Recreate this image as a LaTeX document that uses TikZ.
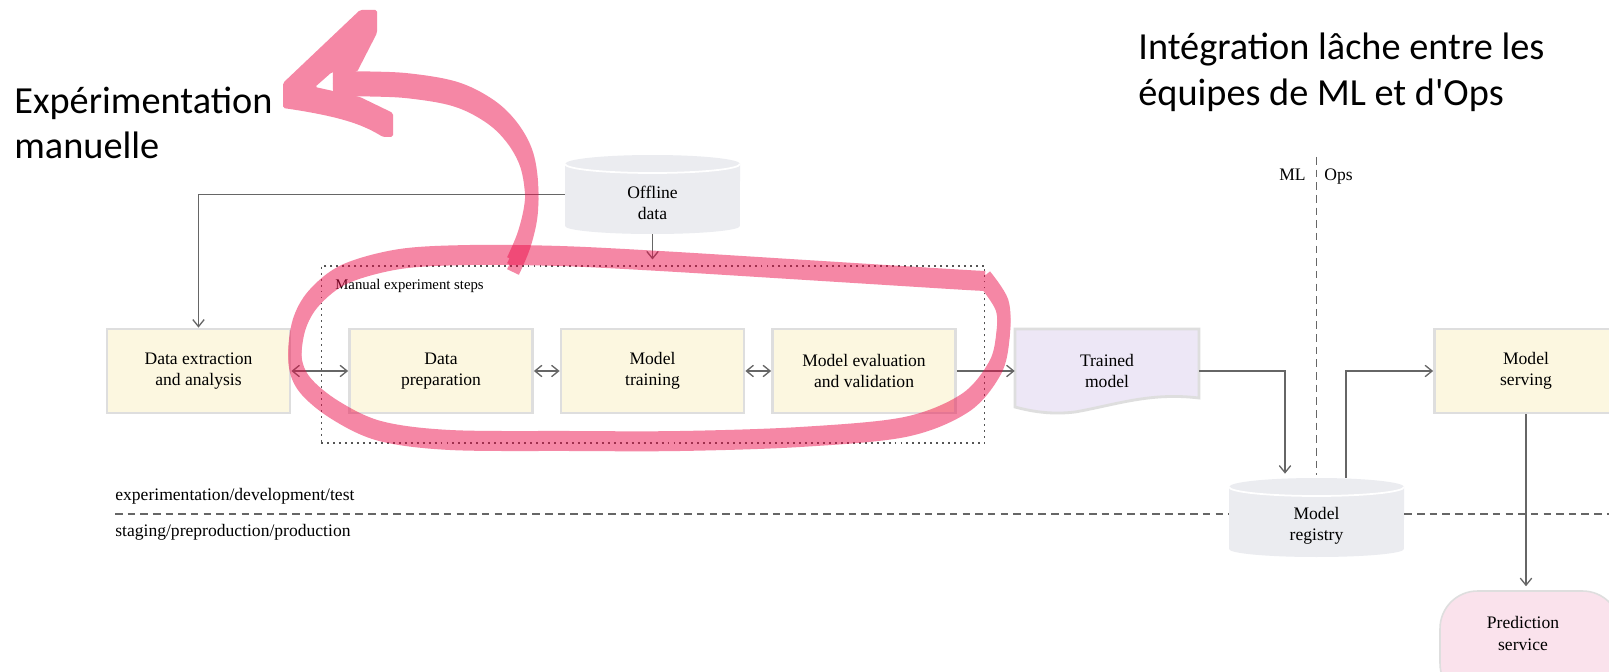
\documentclass[tikz,border=0pt]{standalone}
\usepackage{fontspec}
\setmainfont{Liberation Serif}
\newfontfamily\titlefont{Carlito}
\usetikzlibrary{arrows.meta}

\definecolor{linegray}{RGB}{102,102,102}
\definecolor{dotgray}{RGB}{85,85,85}
\definecolor{boxfill}{RGB}{252,247,224}
\definecolor{boxborder}{RGB}{222,222,222}
\definecolor{tmfill}{RGB}{237,231,246}
\definecolor{cylfill}{RGB}{235,236,240}
\definecolor{predfill}{RGB}{250,226,236}
\definecolor{marker}{RGB}{236,11,72}

\begin{document}
\begin{tikzpicture}[x=0.02cm, y=-0.02cm,
  >={Straight Barb[length=4pt,width=6.5pt]},
  conn/.style={draw=linegray, line width=0.75pt},
  stepbox/.style={draw=boxborder, line width=1.6pt, fill=boxfill,
    minimum width=3.66cm, minimum height=1.68cm, inner sep=0,
    align=center, font=\fontsize{10}{12}\selectfont},
  plain/.style={inner sep=0, font=\fontsize{10}{12}\selectfont},
  title/.style={anchor=base west, inner sep=0, font=\titlefont\fontsize{21.8}{26}\selectfont},
  zone/.style={draw=linegray, line width=0.7pt, dash pattern=on 4.3pt off 2.9pt},
  pen/.style={draw=marker, line width=7.4pt, line cap=butt, line join=round}]

\clip (0,0) rectangle (1609,672);
\fill[white] (0,0) rectangle (1609,672);

% titles
\node[title] (exp1) at (14,114) {Expérimentation};
\node[title] (exp2) at (14,159) {manuelle};
\node[title] (int1) at (1138,60) {Intégration lâche entre les};
\node[title] (int2) at (1138,106) {équipes de ML et d\textquotesingle Ops};

% offline data cylinder
\fill[cylfill] (565,164) -- (565,226)
  arc[start angle=180, end angle=360, x radius=1.75cm, y radius=0.16cm]
  -- (740,164)
  arc[start angle=0, end angle=180, x radius=1.75cm, y radius=0.18cm] -- cycle;
\draw[white, line width=1pt] (565,164)
  arc[start angle=180, end angle=360, x radius=1.75cm, y radius=0.18cm];
\node[inner sep=0, minimum width=3.5cm, minimum height=1.58cm,
  label={[plain, align=center, yshift=-0.17cm]center:Offline\\data}] (off) at (652.5,194.5) {};

% model registry cylinder
\fill[cylfill] (1229,487) -- (1229,549)
  arc[start angle=180, end angle=360, x radius=1.75cm, y radius=0.16cm]
  -- (1404,487)
  arc[start angle=0, end angle=180, x radius=1.75cm, y radius=0.18cm] -- cycle;
\draw[white, line width=1pt] (1229,487)
  arc[start angle=180, end angle=360, x radius=1.75cm, y radius=0.18cm];
\node[inner sep=0, minimum width=3.5cm, minimum height=1.58cm,
  label={[plain, align=center, yshift=-0.17cm]center:Model\\registry}] (reg) at (1316.5,517.5) {};

% pipeline steps
\node[draw=dotgray, dash pattern=on 1.1pt off 2.3pt, line width=0.6pt,
  minimum width=13.28cm, minimum height=3.54cm, inner sep=0] (steps) at (653,354.5) {};
\node[anchor=base west, inner sep=0, font=\fontsize{8.4}{10}\selectfont] (stepslabel) at (335,290) {Manual experiment steps};

\node[stepbox] (extr) at (198.5,371) {Data extraction\\and analysis};
\node[stepbox] (prep) at (441,371) {Data\\preparation};
\node[stepbox] (train) at (652.5,371) {Model\\training};
\node[stepbox] (eval) at (864,371) {Model evaluation\\and validation};
\node[stepbox] (serv) at (1526,371) {Model\\serving};

% trained model (document shape)
\path[draw=boxborder, line width=1.6pt, fill=tmfill]
  (1015,329) -- (1199,329) -- (1199,398)
  .. controls (1150,392) and (1115,405) .. (1075,412)
  .. controls (1050,415) and (1030,411) .. (1015,407) -- cycle;
\node[inner sep=0, minimum width=3.68cm, minimum height=1.68cm, align=center,
  font=\fontsize{10}{12}\selectfont] (tm) at (1107,371) {Trained\\model};

% prediction service (runs past the lower and right edges)
\node[draw=boxborder, line width=0.9pt, fill=predfill, rounded corners=0.75cm,
  minimum width=3.6cm, minimum height=2.2cm, inner sep=0,
  label={[plain, align=center, xshift=-0.14cm, yshift=0.25cm]center:Prediction\\service}] (pred) at (1530,646) {};

% ML / Ops split
\coordinate (mltop) at (1316.5,157);
\draw[zone] (mltop) -- ([yshift=0.06cm]reg.north);
\node[plain, anchor=base east] (ml) at (1306,181) {ML};
\node[plain, anchor=base west] (ops) at (1324,181) {Ops};

% environment split
\coordinate (stageL) at (115,514);
\coordinate (stageR) at (1609,514);
\draw[zone] (stageL) -- (stageL -| reg.west);
\draw[zone] (stageR -| reg.east) -- (stageR);
\node[plain, anchor=base west] (envdev) at (115,500) {experimentation/development/test};
\node[plain, anchor=base west] (envprod) at (115,536) {staging/preproduction/production};

% connectors
\draw[conn,->] (off.west) -| (extr.north);
\draw[conn,->, shorten >=0.12cm] (off.south) -- (off.south |- steps.north);
\draw[conn,<->] (extr.east) -- (prep.west);
\draw[conn,<->] (prep.east) -- (train.west);
\draw[conn,<->] (train.east) -- (eval.west);
\draw[conn,->] (eval.east) -- (tm.west);
\draw[conn,->, shorten >=0.08cm] (tm.east) -| ([xshift=-0.63cm]reg.north);
\draw[conn,->] ([xshift=0.59cm]reg.north) |- (serv.west);
\draw[conn,->, shorten >=0.08cm] (serv.south) -- (serv.south |- pred.north);

% highlighter loop round the manual steps
\begin{scope}[transparency group, opacity=0.49]
\foreach \dy in {-0.07,0,0.07}{
  \draw[pen, yshift=\dy cm] plot[smooth, tension=0.55] coordinates {
    (985,279) (1002,305) (1003,335) (995,368) (965,403) (905,427) (800,437)
    (680,441) (570,441) (450,440) (380,431) (335,410) (305,385) (295,360)
    (299,325) (314,298) (345,274) (400,259) (470,255) (560,256) (660,261)
    (806,270) (950,279) (985,281)};
}
\end{scope}

% highlighter arrow pointing to the caption
\begin{scope}[transparency group, opacity=0.49]
\foreach \dy in {-0.12,0,0.12}{
  \draw[pen, yshift=\dy cm] plot[smooth, tension=0.6] coordinates {
    (513,266) (524,240) (531,210) (531,182) (525,155) (510,130) (488,110)
    (455,94) (410,86) (370,84) (333,84)};
}
\fill[marker, rounded corners=1pt] (360,10) -- (377,10) -- (377,33) -- (357,72)
  -- (332,72) -- (315,87) -- (360,97) -- (393,113) -- (393,137) -- (383,137)
  .. controls (365,126) and (345,117) .. (283,108) -- (283,83) -- cycle;
\end{scope}
\end{tikzpicture}
\end{document}
